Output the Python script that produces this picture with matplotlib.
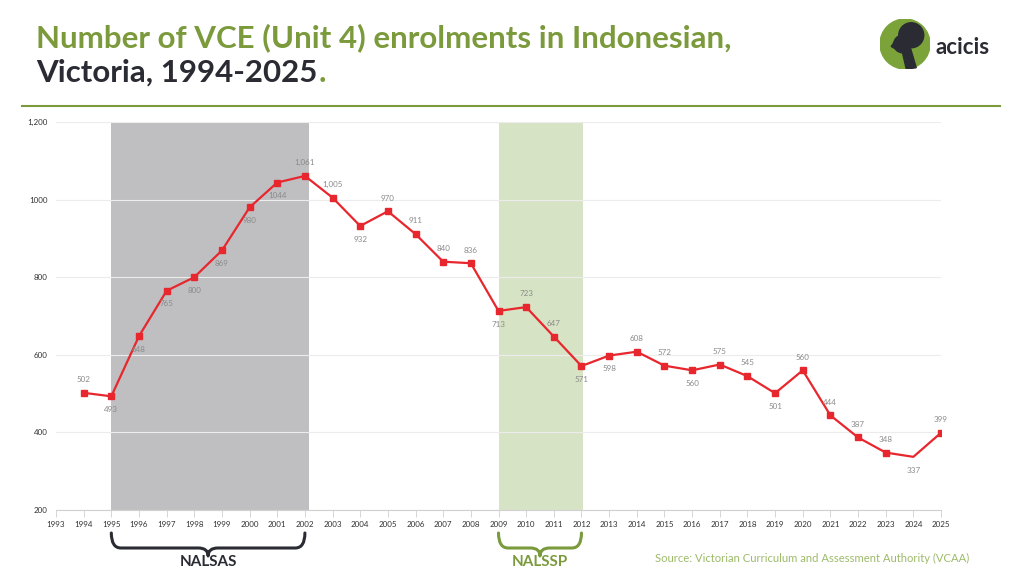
import matplotlib
matplotlib.use("Agg")
import matplotlib.pyplot as plt
from matplotlib.path import Path
from matplotlib.patches import PathPatch, Circle, Polygon
from matplotlib.transforms import blended_transform_factory, offset_copy

plt.rcParams['font.family'] = ['Lato', 'DejaVu Sans']

# data
years = list(range(1994, 2026))
enrolments = [502, 493, 648, 765, 800, 869, 980, 1044, 1061, 1005, 932, 970, 911,
              840, 836, 713, 723, 647, 571, 598, 608, 572, 560, 575, 545, 501,
              560, 444, 387, 348, 337, 399]
point_labels = ['502', '493', '648', '765', '800', '869', '980', '1044', '1,061', '1,005',
                '932', '970', '911', '840', '836', '713', '723', '647', '571', '598',
                '608', '572', '560', '575', '545', '501', '560', '444', '387', '348',
                '337', '399']
# 1 = label above point, -1 = below
label_side = [1, -1, -1, -1, -1, -1, -1, -1, 1, 1, -1, 1, 1, 1, 1, -1, 1, 1, -1, -1,
              1, 1, -1, 1, 1, -1, 1, 1, 1, 1, -1, 1]
ytick_vals = [200, 400, 600, 800, 1000, 1200]
ytick_labels = ['200', '400', '600', '800', '1000', '1,200']
xtick_vals = list(range(1993, 2026))
programs = ['NALSAS', 'NALSSP']
prog_start = [1995, 2009]
prog_end = [2002.15, 2012.05]

GREEN = '#7b9a3c'
DARK = '#2a2b33'
RED = '#e8262d'

fig = plt.figure(figsize=(10.24, 5.74), dpi=100)
ax = fig.add_axes([56/1024, 1-510/574, (941-56)/1024, 388/574])

ax.axvspan(prog_start[0], prog_end[0], color='#bfbfc1', zorder=0, lw=0)
ax.axvspan(prog_start[1], prog_end[1], color='#d7e3c5', zorder=0, lw=0)

# markers everywhere except 2024
marks = [i for i, y in enumerate(years) if y != 2024]
ax.plot(years, enrolments, color=RED, lw=1.6, marker='s', ms=4, markevery=marks, zorder=3)

for x, y, t, s in zip(years, enrolments, point_labels, label_side):
    ax.annotate(t, (x, y), xytext=(0, 9.5*s), textcoords='offset points',
                ha='center', va='center', fontsize=5.8, color='#8a8a8a', zorder=4)

ax.set_xlim(1993, 2025)
ax.set_ylim(200, 1200)
ax.set_yticks(ytick_vals)
ax.set_yticklabels(ytick_labels)
ax.set_xticks(xtick_vals)
ax.set_xticklabels([str(v) for v in xtick_vals])
ax.grid(axis='y', color='#ececec', lw=0.8)
ax.set_axisbelow(True)
for sp in ['top', 'right', 'left']:
    ax.spines[sp].set_visible(False)
ax.spines['bottom'].set_color('#d0d0d0')
ax.tick_params(axis='y', length=0, pad=6, labelsize=5.8, labelcolor='#333333')
ax.tick_params(axis='x', length=5, width=0.6, color='#d0d0d0', pad=3,
               labelsize=5.8, labelcolor='#333333')

# header
fig.text(36/1024, 1-38/574, 'Number of VCE (Unit 4) enrolments in Indonesian,',
         fontsize=22.5, color=GREEN, fontweight='bold', va='center')
t2 = fig.text(36/1024, 1-73/574, 'Victoria, 1994-2025', fontsize=22.5, color=DARK,
              fontweight='bold', va='center')
dot_tr = offset_copy(t2.get_transform(), fig=fig, x=0, y=0, units='points')
fig.canvas.draw()
bb = t2.get_window_extent()
fig.text(bb.x1 / 1024 + 1/1024, 1-73/574, '.', fontsize=22.5, color=GREEN,
         fontweight='bold', va='center')
fig.add_artist(plt.Line2D([22/1024, 1000/1024], [1-106/574, 1-106/574],
                          transform=fig.transFigure, color=GREEN, lw=1.5))

# logo
lax = fig.add_axes([880/1024, 1-69/574, 50/1024, 50/574])
lax.set_xlim(-1, 1)
lax.set_ylim(-1, 1)
lax.set_aspect('equal')
lax.axis('off')
lax.add_patch(Circle((0, 0), 1, color='#7ba33a'))
lax.add_patch(Circle((0.25, 0.35), 0.5, color=DARK))
lax.add_patch(Polygon([(-0.35, 0.2), (0.2, -0.1), (0.45, -0.95), (0.05, -1.0),
                       (-0.1, -0.35), (-0.55, -0.1)], color=DARK))
lax.add_patch(Circle((-0.1, 0.0), 0.35, color=DARK))
fig.text(935/1024, 1-47/574, 'acicis', fontsize=16, color=DARK, fontweight='bold',
         va='center')

# braces under the axis
tr = blended_transform_factory(ax.transData, fig.transFigure)
def brace(x0, x1, color):
    top = 1 - 533/574
    bot = 1 - 548/574
    tip = 1 - 556/574
    mid = (x0 + x1) / 2
    r = 0.35
    verts = [(x0, top), (x0, bot), (x0 + r, bot), (x0 + r, bot),
             (mid - r, bot), (mid, bot), (mid, tip),
             (mid, bot), (mid + r, bot), (x1 - r, bot),
             (x1 - r, bot), (x1, bot), (x1, top)]
    codes = [Path.MOVETO, Path.CURVE3, Path.CURVE3, Path.LINETO,
             Path.LINETO, Path.CURVE3, Path.CURVE3,
             Path.CURVE3, Path.CURVE3, Path.LINETO,
             Path.LINETO, Path.CURVE3, Path.CURVE3]
    p = PathPatch(Path(verts, codes), transform=tr, fill=False, edgecolor=color,
                  lw=2.2, capstyle='round', joinstyle='round', clip_on=False)
    fig.add_artist(p)

brace(1995, 2002, DARK)
brace(2009, 2012, GREEN)
fig.text(1998.5, 1-562/574, programs[0], transform=tr, ha='center', va='center',
         fontsize=11, fontweight='bold', color=DARK)
fig.text(2010.5, 1-562/574, programs[1], transform=tr, ha='center', va='center',
         fontsize=11, fontweight='bold', color=GREEN)

fig.text(655/1024, 1-558/574, 'Source: Victorian Curriculum and Assessment Authority (VCAA)',
         fontsize=8.1, color='#9dbb6a', va='center')

fig.savefig('out.png', dpi=100)
